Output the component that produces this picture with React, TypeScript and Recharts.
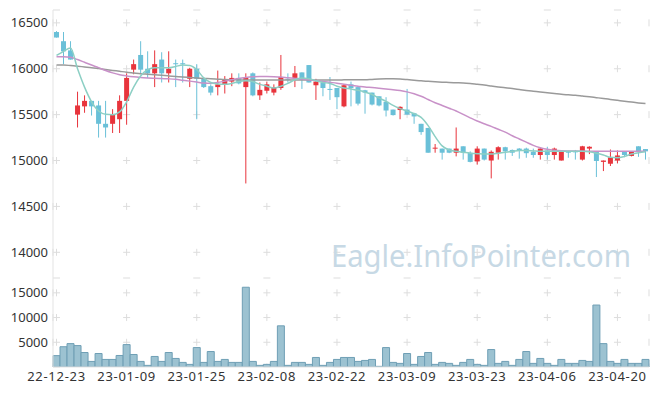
import React from 'react';
import { ComposedChart, BarChart, Bar, Line, XAxis, YAxis, CartesianGrid } from 'recharts';

const dates = [
  '22-12-23', '22-12-26', '22-12-27', '22-12-28', '22-12-29', '23-01-02', '23-01-03', '23-01-04', '23-01-05', '23-01-06',
  '23-01-09', '23-01-10', '23-01-11', '23-01-12', '23-01-13', '23-01-16', '23-01-17', '23-01-18', '23-01-19', '23-01-20',
  '23-01-25', '23-01-26', '23-01-27', '23-01-30', '23-01-31', '23-02-01', '23-02-02', '23-02-03', '23-02-06', '23-02-07',
  '23-02-08', '23-02-09', '23-02-10', '23-02-13', '23-02-14', '23-02-15', '23-02-16', '23-02-17', '23-02-20', '23-02-21',
  '23-02-22', '23-02-23', '23-02-24', '23-02-27', '23-02-28', '23-03-02', '23-03-03', '23-03-06', '23-03-07', '23-03-08',
  '23-03-09', '23-03-10', '23-03-13', '23-03-14', '23-03-15', '23-03-16', '23-03-17', '23-03-20', '23-03-21', '23-03-22',
  '23-03-23', '23-03-24', '23-03-27', '23-03-28', '23-03-29', '23-03-30', '23-03-31', '23-04-03', '23-04-04', '23-04-05',
  '23-04-06', '23-04-07', '23-04-10', '23-04-11', '23-04-12', '23-04-13', '23-04-14', '23-04-17', '23-04-18', '23-04-19',
  '23-04-20', '23-04-21', '23-04-24', '23-04-25', '23-04-26',
];

const opens = [
  16400, 16300, 16200, 15500, 15590, 15650, 15600, 15400, 15400, 15450,
  15650, 15990, 16150, 16000, 15950, 16100, 15950, 16060, 16060, 15890,
  16000, 15890, 15810, 15800, 15830, 15860, 15900, 15800, 15950, 15710,
  15760, 15740, 15790, 15890, 15900, 15960, 16040, 15820, 15850, 15780,
  15790, 15590, 15830, 15800, 15765, 15740, 15700, 15640, 15555, 15550,
  15555, 15515, 15400, 15355, 15130, 15130, 15130, 15085, 15155, 15085,
  14990, 15130, 15000, 15085, 15145, 15115, 15130, 15130, 15095, 15060,
  15110, 15060, 15000, 15100, 15100, 15010, 15130, 15095, 14985, 14965,
  15000, 15095, 15050, 15155, 15125,
];
const highs = [
  16410, 16400, 16300, 15750, 15710, 15650, 15650, 15650, 15560, 15710,
  15950, 16100, 16300, 16190, 16200, 16180, 16190, 16100, 16100, 16010,
  16050, 15890, 15830, 15980, 15920, 15950, 15950, 15950, 15960, 15850,
  15860, 15830, 16150, 15950, 16030, 15960, 16040, 15890, 15850, 15910,
  15790, 15830, 15860, 15810, 15770, 15740, 15700, 15690, 15555, 15590,
  15780, 15520, 15400, 15355, 15180, 15130, 15130, 15360, 15155, 15100,
  15155, 15130, 15110, 15155, 15150, 15120, 15135, 15140, 15130, 15135,
  15150, 15140, 15100, 15105, 15115, 15160, 15155, 15100, 15000, 15120,
  15110, 15095, 15100, 15155, 15125,
];
const lows = [
  16340, 16050, 16100, 15360, 15520, 15490, 15250, 15250, 15300, 15300,
  15390, 15940, 15940, 15900, 15800, 15850, 15850, 15800, 15850, 15800,
  15450, 15790, 15710, 15710, 15730, 15810, 15830, 14750, 15700, 15660,
  15730, 15710, 15770, 15850, 15800, 15780, 15850, 15660, 15700, 15660,
  15560, 15580, 15590, 15600, 15510, 15600, 15590, 15480, 15490, 15450,
  15500, 15400, 15280, 15085, 15085, 15010, 15080, 15045, 15010, 14980,
  14955, 15000, 14805, 15010, 15010, 15050, 15020, 15030, 15030, 15010,
  15010, 15010, 15000, 15030, 15010, 15000, 15070, 14820, 14885, 14940,
  14970, 15035, 15045, 15040, 15010,
];
const closes = [
  16340, 16190, 16100, 15600, 15650, 15590, 15400, 15360, 15500, 15650,
  15900, 16050, 15990, 15950, 16050, 15950, 16000, 16050, 16050, 16000,
  15890, 15800, 15740, 15830, 15880, 15900, 15840, 15900, 15710, 15770,
  15830, 15800, 15910, 15880, 15950, 15880, 15850, 15860, 15790, 15775,
  15690, 15820, 15790, 15620, 15740, 15610, 15600, 15545, 15495, 15585,
  15500, 15480, 15310, 15085, 15140, 15085, 15085, 15130, 15085, 14985,
  15130, 15010, 15095, 15145, 15100, 15085, 15110, 15080, 15060, 15130,
  15060, 15130, 15095, 15085, 15095, 15155, 15150, 14995, 15000, 15035,
  15055, 15060, 15095, 15095, 15100,
];

const ma5 = [
  16145, 16190, 16225, 16000, 15800, 15640, 15540, 15505, 15500, 15530,
  15640, 15800, 15920, 15990, 16010, 16010, 16010, 16025, 16040, 16035,
  15990, 15900, 15850, 15835, 15830, 15840, 15860, 15870, 15860, 15830,
  15810, 15790, 15810, 15840, 15880, 15900, 15890, 15870, 15850, 15840,
  15810, 15790, 15780, 15765, 15745, 15720, 15680, 15645, 15600, 15565,
  15540, 15510, 15470, 15380, 15260, 15160, 15115, 15100, 15090, 15080,
  15075, 15070, 15070, 15080, 15090, 15100, 15110, 15110, 15105, 15100,
  15100, 15100, 15100, 15100, 15100, 15100, 15095, 15080, 15060, 15035,
  15030, 15045, 15070, 15085, 15095,
];
const ma20 = [
  16130, 16130, 16125, 16100, 16070, 16040, 16012, 15980, 15955, 15935,
  15922, 15912, 15905, 15900, 15896, 15893, 15890, 15885, 15875, 15865,
  15855, 15845, 15843, 15850, 15865, 15880, 15895, 15905, 15912, 15916,
  15916, 15914, 15910, 15902, 15895, 15888, 15880, 15870, 15862, 15852,
  15842, 15830, 15820, 15810, 15800, 15795, 15788, 15780, 15772, 15762,
  15748, 15728, 15700, 15665, 15630, 15600, 15570, 15540, 15502, 15465,
  15430, 15400, 15372, 15340, 15310, 15270, 15235, 15200, 15165, 15140,
  15122, 15112, 15106, 15104, 15103, 15102, 15101, 15100, 15100, 15100,
  15100, 15100, 15100, 15100, 15100,
];
const ma60 = [
  16040, 16040, 16035, 16028, 16020, 16012, 16002, 15992, 15982, 15972,
  15962, 15954, 15946, 15940, 15934, 15928, 15922, 15916, 15910, 15905,
  15900, 15895, 15890, 15886, 15882, 15880, 15878, 15876, 15876, 15876,
  15876, 15876, 15876, 15876, 15876, 15877, 15878, 15878, 15878, 15878,
  15878, 15879, 15880, 15880, 15880, 15884, 15888, 15890, 15890, 15888,
  15882, 15875, 15868, 15863, 15858, 15854, 15850, 15847, 15844, 15838,
  15830, 15822, 15812, 15802, 15793, 15784, 15774, 15764, 15755, 15746,
  15738, 15730, 15722, 15716, 15710, 15702, 15694, 15685, 15676, 15666,
  15656, 15646, 15637, 15628, 15620,
];

const volumes = [
  2300, 4100, 4730, 4330, 2930, 1130, 2730, 1530, 1530, 2330,
  4530, 2530, 1130, 330, 2130, 1130, 2930, 1730, 930, 530,
  3930, 930, 3130, 1130, 1530, 930, 930, 16130, 1130, 330,
  530, 1130, 8330, 330, 930, 930, 530, 1930, 330, 930,
  1530, 1930, 1930, 1130, 1330, 1530, 130, 3930, 930, 730,
  2730, 530, 2130, 2930, 530, 930, 730, 330, 930, 1530,
  530, 330, 3530, 730, 1130, 330, 1530, 3130, 730, 1730,
  730, 330, 1530, 730, 730, 1330, 1130, 12530, 4730, 1130,
  730, 1530, 730, 730, 1530,
];

const priceTicks = [14000, 14500, 15000, 15500, 16000, 16500];
const volumeTicks = [5000, 10000, 15000];

const data = dates.map((d, i) => ({
  date: d,
  open: opens[i],
  high: highs[i],
  low: lows[i],
  close: closes[i],
  range: [lows[i], highs[i]],
  ma5: ma5[i],
  ma20: ma20[i],
  ma60: ma60[i],
  volume: volumes[i],
}));

const UP = '#e8343c';
const DOWN = '#6ac0d8';
const BORDER = '#e3e3e3';
const CROSS = '#dddddd';
const FONT = "'Noto Sans', sans-serif";
const tickStyle = { fontSize: 13, fill: '#333', fontFamily: FONT };
const xTickStyle = { fontSize: 13, fill: '#333', fontFamily: FONT, letterSpacing: 0.7 };

function EmptyTick() {
  return null;
}

function Candle(props: any) {
  const { x, y, width, height } = props;
  const p = props.payload || props;
  if (x == null || y == null || p == null) return null;
  const { open, close, high, low } = p;
  const top = Math.min(y, y + height);
  const h = Math.abs(height);
  const k = high > low ? h / (high - low) : 0;
  const bt = top + (high - Math.max(open, close)) * k;
  const bb = top + (high - Math.min(open, close)) * k;
  const color = close >= open ? UP : DOWN;
  const cx = x + width / 2;
  return (
    <g>
      <line x1={cx} x2={cx} y1={top} y2={top + h} stroke={color} strokeWidth={1} />
      <rect x={x} y={bt} width={width} height={Math.max(1, bb - bt)} fill={color} />
    </g>
  );
}

export default function App() {
  return (
    <div style={{ position: 'absolute', left: 0, top: 0, width: 657, height: 396, background: '#fff', fontFamily: FONT }}>
      <div style={{ position: 'absolute', left: 0, top: 0 }}>
        <ComposedChart width={657} height={278} data={data} margin={{ top: 10, right: 8, bottom: 0, left: 0 }} barSize={5}>
          <CartesianGrid vertical={false} stroke={CROSS} strokeDasharray="7 63.118" />
          <CartesianGrid horizontal={false} stroke={CROSS} strokeDasharray="0 9.35 7 29.54" />
          <XAxis dataKey="date" interval={9} height={0} tick={<EmptyTick />} tickLine={false} axisLine={{ stroke: BORDER }} />
          <XAxis xAxisId="top" dataKey="date" orientation="top" height={0} tick={false} tickLine={false} axisLine={{ stroke: BORDER }} />
          <YAxis
            domain={[13720, 16640]}
            ticks={priceTicks}
            width={53}
            allowDataOverflow
            tickLine={false}
            tickSize={5}
            tickMargin={0}
            axisLine={{ stroke: BORDER }}
            tick={tickStyle}
          />
          <YAxis yAxisId="right" orientation="right" width={0} tick={false} tickLine={false} axisLine={{ stroke: BORDER }} />
          <Bar dataKey="range" shape={<Candle />} isAnimationActive={false} />
          <Line dataKey="ma60" type="monotone" stroke="#9a9a9a" strokeWidth={1.5} dot={false} isAnimationActive={false} />
          <Line dataKey="ma20" type="monotone" stroke="#c891c8" strokeWidth={1.5} dot={false} isAnimationActive={false} />
          <Line dataKey="ma5" type="monotone" stroke="#8ccfc4" strokeWidth={1.5} dot={false} isAnimationActive={false} />
        </ComposedChart>
      </div>
      <div style={{ position: 'absolute', left: 0, top: 278 }}>
        <BarChart width={657} height={118} data={data} margin={{ top: 0, right: 8, bottom: 0, left: 0 }} barCategoryGap={0}>
          <CartesianGrid vertical={false} stroke={CROSS} strokeDasharray="7 63.118" />
          <CartesianGrid horizontal={false} stroke={CROSS} strokeDasharray="0 11.33 7 6.39" />
          <XAxis
            dataKey="date"
            interval={9}
            height={29}
            tickLine={false}
            tickSize={5}
            tickMargin={0}
            axisLine={{ stroke: BORDER }}
            tick={xTickStyle}
          />
          <YAxis
            domain={[0, 18000]}
            ticks={volumeTicks}
            width={53}
            allowDataOverflow
            tickLine={false}
            tickSize={5}
            tickMargin={0}
            axisLine={{ stroke: BORDER }}
            tick={tickStyle}
          />
          <YAxis yAxisId="right" orientation="right" width={0} tick={false} tickLine={false} axisLine={{ stroke: BORDER }} />
          <Bar dataKey="volume" fill="#9cc2d1" stroke="#6f9fb5" strokeWidth={1} isAnimationActive={false} />
        </BarChart>
      </div>
      <svg width={657} height={396} style={{ position: 'absolute', left: 0, top: 0, pointerEvents: 'none' }}>
        <text x={331} y={267} fontSize={30} fill="#c7d9e5" fontFamily={FONT} textLength={300} lengthAdjust="spacingAndGlyphs">
          Eagle.InfoPointer.com
        </text>
      </svg>
    </div>
  );
}
